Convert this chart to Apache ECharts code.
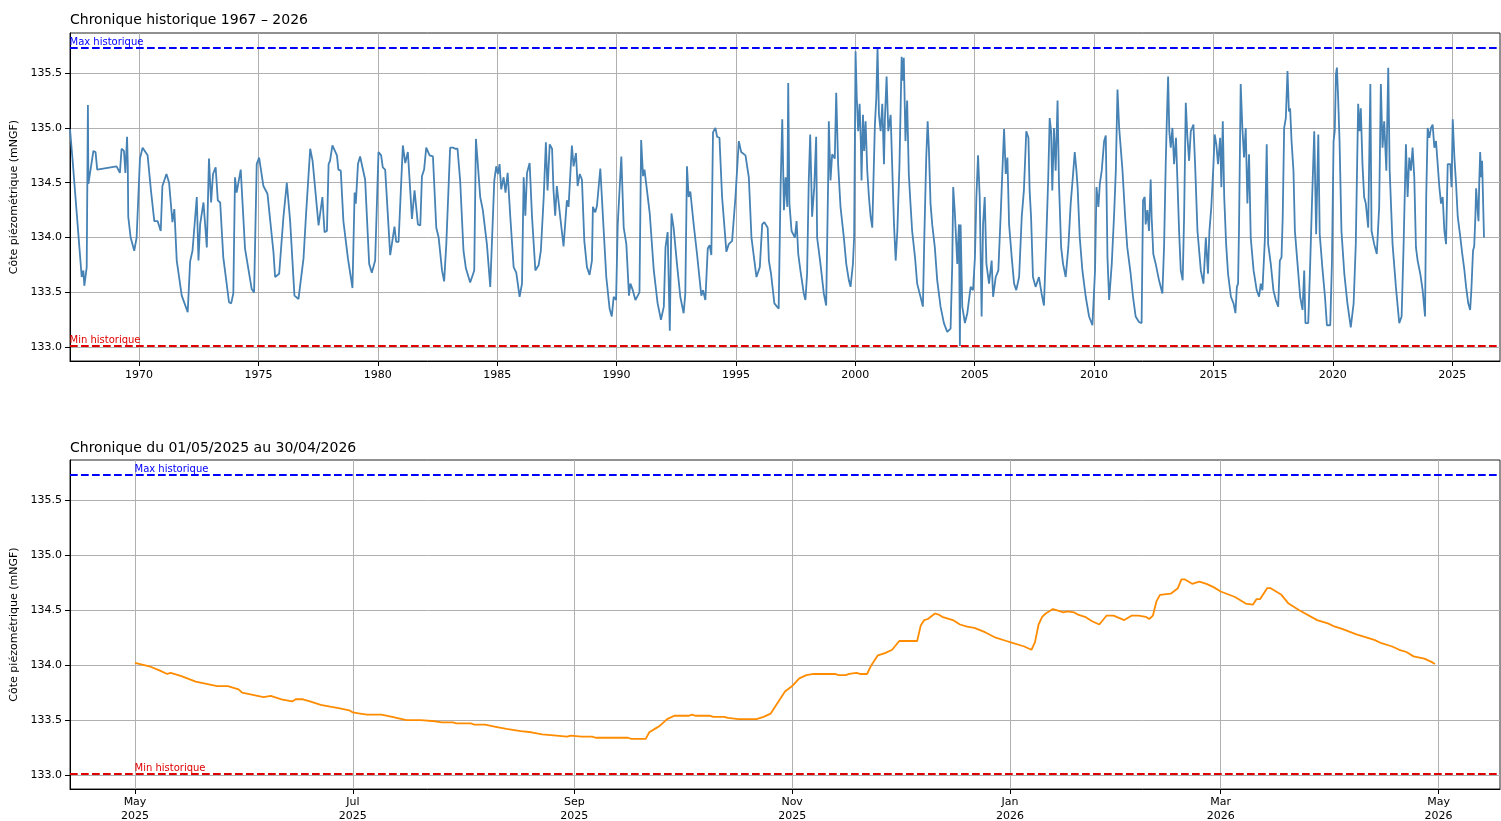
<!DOCTYPE html>
<html><head><meta charset="utf-8">
<script src="https://cdn.jsdelivr.net/npm/echarts@6/dist/echarts.min.js"></script>
<style>html,body{margin:0;padding:0;background:#fff}#c{width:1501px;height:821px}</style>
</head><body><div id="c"></div>
<script>
// ---- historical series (decimal year, level in mNGF) ----
const histYears = [
1967.11,1967.15,1967.21,1967.29,1967.60,1967.67,1967.71,1967.81,1967.86,1967.88,1968.09,1968.18,1968.25,
1969.06,1969.20,1969.27,1969.37,1969.43,1969.50,1969.53,1969.55,1969.65,1969.72,1969.80,1969.90,
1970.04,1970.15,1970.36,1970.50,1970.64,1970.78,1970.91,1970.98,1971.06,1971.15,1971.26,1971.40,1971.48,1971.58,1971.79,
1972.04,1972.14,1972.24,1972.42,1972.49,1972.56,1972.70,1972.84,1972.93,1973.02,1973.10,1973.21,1973.30,1973.40,1973.53,1973.77,1973.86,1973.95,
1974.02,1974.09,1974.26,1974.44,1974.72,1974.82,1974.93,1975.03,1975.21,1975.38,1975.63,1975.70,1975.87,
1976.05,1976.19,1976.33,1976.51,1976.68,1976.89,1976.99,1977.17,1977.27,1977.52,1977.68,1977.77,1977.87,1977.94,
1978.00,1978.10,1978.29,1978.35,1978.45,1978.56,1978.75,1978.94,1979.03,1979.08,1979.17,1979.26,1979.47,1979.64,1979.75,1979.89,
1980.03,1980.14,1980.21,1980.31,1980.52,1980.59,1980.70,1980.77,1980.87,1981.05,1981.15,1981.26,1981.36,1981.43,1981.54,1981.68,1981.78,
1981.85,1981.94,1982.03,1982.17,1982.31,1982.45,1982.55,1982.69,1982.78,1982.87,1983.03,1983.15,1983.24,1983.34,1983.45,1983.59,1983.69,1983.87,
1984.04,1984.11,1984.18,1984.29,1984.40,1984.57,1984.71,1984.88,1984.96,1985.03,1985.10,1985.17,1985.27,1985.35,1985.44,1985.55,1985.69,1985.80,1985.94,
1986.04,1986.11,1986.18,1986.25,1986.36,1986.46,1986.60,1986.74,1986.83,1986.95,1987.04,1987.11,1987.20,1987.30,1987.36,1987.43,1987.50,1987.64,1987.78,1987.92,1987.99,
1988.13,1988.20,1988.30,1988.37,1988.46,1988.55,1988.65,1988.76,1988.87,1988.97,1989.01,1989.11,1989.18,1989.32,1989.43,1989.57,1989.71,1989.80,1989.88,1989.98,
1990.05,1990.20,1990.30,1990.41,1990.52,1990.58,1990.68,1990.79,1990.96,1991.03,1991.11,1991.17,1991.25,1991.39,1991.56,1991.72,1991.86,1991.98,
1992.05,1992.14,1992.23,1992.30,1992.39,1992.53,1992.67,1992.81,1992.88,1992.95,1993.02,1993.09,1993.23,1993.37,1993.55,1993.62,1993.72,1993.82,1993.90,1993.97,
1994.04,1994.14,1994.21,1994.31,1994.42,1994.60,1994.70,1994.84,1994.98,1995.12,1995.22,1995.40,1995.54,1995.65,1995.86,
1996.00,1996.10,1996.19,1996.33,1996.38,1996.47,1996.61,1996.79,1996.87,1996.94,1997.01,1997.08,1997.15,1997.19,1997.24,1997.33,1997.47,1997.54,1997.61,1997.70,1997.84,1997.91,1997.98,
1998.05,1998.11,1998.19,1998.28,1998.36,1998.40,1998.54,1998.68,1998.78,1998.86,1998.89,1998.96,1999.03,1999.14,1999.20,1999.28,1999.38,1999.52,1999.62,1999.73,1999.80,1999.90,1999.95,
2000.01,2000.06,2000.12,2000.18,2000.23,2000.26,2000.32,2000.37,2000.43,2000.50,2000.57,2000.64,2000.71,2000.76,2000.82,2000.88,2000.93,2000.99,
2001.06,2001.13,2001.20,2001.24,2001.31,2001.38,2001.48,2001.55,2001.62,2001.69,2001.76,2001.85,2001.94,2001.99,
2002.03,2002.10,2002.17,2002.24,2002.31,2002.38,2002.50,2002.59,2002.73,2002.83,2002.89,2002.97,2003.03,2003.08,2003.15,2003.22,2003.33,2003.43,2003.57,2003.71,2003.85,2003.99,
2004.06,2004.10,2004.17,2004.27,2004.34,2004.38,2004.41,2004.48,2004.59,2004.69,2004.83,2004.93,2005.01,2005.07,2005.14,2005.21,2005.29,2005.35,2005.42,2005.49,2005.60,2005.71,2005.77,2005.88,2005.99,
2006.09,2006.16,2006.23,2006.30,2006.37,2006.44,2006.55,2006.65,2006.74,2006.86,2006.97,2007.06,2007.16,2007.25,2007.30,2007.36,2007.44,2007.55,2007.69,2007.80,2007.90,
2008.00,2008.08,2008.14,2008.20,2008.25,2008.32,2008.39,2008.47,2008.53,2008.62,2008.70,2008.81,2008.92,2009.02,2009.12,2009.19,2009.26,2009.31,2009.40,2009.51,2009.65,2009.79,2009.93,
2010.04,2010.10,2010.18,2010.24,2010.32,2010.42,2010.49,2010.56,2010.63,2010.74,2010.84,2010.91,2010.98,2011.05,2011.19,2011.30,2011.39,2011.53,2011.63,2011.74,2011.88,2011.99,
2012.05,2012.12,2012.16,2012.23,2012.30,2012.37,2012.41,2012.48,2012.58,2012.72,2012.86,2012.93,2013.00,2013.04,2013.10,2013.15,2013.21,2013.28,2013.35,2013.43,2013.49,2013.56,2013.63,2013.71,2013.77,2013.84,2013.91,2013.98,
2014.05,2014.16,2014.23,2014.33,2014.47,2014.58,2014.68,2014.77,2014.83,2014.91,2015.00,2015.05,2015.12,2015.19,2015.28,2015.33,2015.39,2015.45,2015.53,2015.61,2015.73,2015.84,2015.92,2015.98,
2016.03,2016.07,2016.14,2016.21,2016.28,2016.35,2016.42,2016.49,2016.56,2016.68,2016.81,2016.91,2016.98,2017.05,2017.15,2017.23,2017.29,2017.40,2017.51,2017.61,2017.71,2017.78,2017.85,2017.90,2017.96,
2018.03,2018.10,2018.16,2018.21,2018.27,2018.35,2018.41,2018.52,2018.63,2018.73,2018.80,2018.85,2018.97,2019.05,2019.12,2019.22,2019.30,2019.39,2019.45,2019.57,2019.67,2019.75,2019.89,2019.96,
2020.03,2020.08,2020.13,2020.17,2020.22,2020.28,2020.36,2020.48,2020.61,2020.75,2020.87,2020.96,2021.06,2021.12,2021.17,2021.24,2021.31,2021.38,2021.48,2021.57,2021.62,2021.73,2021.84,2021.94,
2022.01,2022.08,2022.15,2022.24,2022.32,2022.38,2022.50,2022.64,2022.78,2022.88,2022.96,2023.06,2023.13,2023.20,2023.27,2023.34,2023.41,2023.48,2023.55,2023.66,2023.76,2023.86,2023.91,2023.97,
2024.04,2024.11,2024.18,2024.25,2024.32,2024.39,2024.46,2024.53,2024.60,2024.67,2024.74,2024.81,2024.92,2024.97,2025.02,2025.09,2025.16,2025.23,
2025.33,2025.42,2025.50,2025.58,2025.67,2025.75,2025.80,2025.87,2025.92,2025.97,2026.00,2026.08,2026.10,2026.13,2026.17,2026.21,2026.25,2026.33
];
const histValues = [
134.99,134.99,134.73,134.72,133.64,133.70,133.56,133.73,135.21,134.49,134.79,134.78,134.62,
134.65,134.59,134.81,134.79,134.59,134.92,134.67,134.19,134.00,133.99,133.88,134.00,
134.72,134.82,134.75,134.43,134.15,134.15,134.06,134.47,134.46,134.58,134.50,134.14,134.26,133.79,133.47,
133.32,133.78,133.88,134.37,133.79,134.12,134.32,133.91,134.72,134.32,134.58,134.64,134.34,134.32,133.82,133.41,133.40,133.49,
134.55,134.41,134.62,133.90,133.53,133.50,134.67,134.73,134.47,134.40,133.87,133.64,133.67,
134.19,134.50,134.15,133.47,133.44,133.81,134.19,134.81,134.70,134.11,134.37,134.05,134.06,134.67,
134.70,134.84,134.75,134.62,134.61,134.15,133.81,133.54,134.41,134.31,134.67,134.74,134.53,133.76,133.68,133.79,
134.78,134.75,134.64,134.62,133.84,133.94,134.10,133.96,133.96,134.84,134.68,134.78,134.43,134.17,134.43,134.12,134.11,
134.56,134.62,134.82,134.75,134.74,134.09,134.00,133.70,133.60,133.94,134.82,134.82,134.81,134.81,134.52,133.88,133.72,133.59,
133.70,134.90,134.70,134.37,134.25,133.94,133.55,134.52,134.65,134.58,134.67,134.44,134.55,134.41,134.59,134.19,133.73,133.68,133.46,
133.58,134.55,134.20,134.59,134.68,134.19,133.70,133.75,133.88,134.37,134.87,134.43,134.85,134.81,134.43,134.20,134.47,134.19,133.92,134.34,134.28,
134.84,134.65,134.77,134.47,134.58,134.53,133.97,133.73,133.66,133.79,134.28,134.23,134.29,134.63,134.19,133.64,133.35,133.28,133.46,133.43,
134.12,134.74,134.09,133.94,133.47,133.58,133.52,133.43,133.50,134.89,134.56,134.62,134.61,134.22,133.70,133.40,133.25,133.37,
133.91,134.05,133.15,134.22,134.09,133.76,133.46,133.31,133.49,134.65,134.37,134.42,134.12,133.85,133.47,133.52,133.43,133.90,133.93,133.84,
134.96,135.00,134.92,134.91,134.37,133.87,133.94,133.97,134.37,134.88,134.78,134.75,134.55,134.00,133.64,
133.73,134.12,134.14,134.09,133.79,133.67,133.40,133.35,134.46,135.08,134.25,134.55,134.28,135.41,134.31,134.06,134.00,134.15,133.85,133.70,133.49,133.43,133.67,
134.52,134.94,134.19,134.46,134.92,134.00,133.76,133.49,133.38,134.49,135.06,134.52,134.76,134.72,135.32,134.67,134.28,134.00,133.76,133.61,133.55,133.76,134.00,
135.70,135.28,134.97,135.22,134.88,134.52,135.12,134.79,135.06,134.61,134.37,134.19,134.09,134.52,135.03,135.28,135.73,135.12,
134.97,135.22,134.67,135.09,135.47,134.97,135.12,134.61,134.12,133.79,134.06,134.67,135.65,135.43,
135.64,134.88,135.25,134.58,134.31,134.06,133.82,133.58,133.46,133.37,134.00,134.73,135.06,134.82,134.31,134.12,133.91,133.61,133.37,133.22,133.14,133.17,
133.76,134.46,134.22,133.76,134.12,133.01,134.12,133.37,133.22,133.31,133.55,133.52,133.82,134.37,134.75,134.37,133.28,134.12,134.37,133.76,133.58,133.79,133.46,133.64,133.70,
134.22,134.61,134.99,134.58,134.73,134.12,133.82,133.58,133.52,133.64,134.19,134.43,134.97,134.91,134.43,134.19,133.64,133.55,133.64,133.49,133.38,
134.00,134.55,135.09,134.97,134.43,135.00,134.61,135.25,134.49,133.91,133.76,133.64,133.91,134.31,134.58,134.78,134.61,134.46,134.00,133.70,133.46,133.28,133.20,
133.70,134.46,134.28,134.49,134.61,134.88,134.93,133.82,133.43,133.76,134.22,134.61,135.35,135.00,134.61,134.19,133.91,133.67,133.46,133.28,133.23,133.22,
134.34,134.37,134.12,134.25,134.06,134.53,134.19,133.85,133.76,133.61,133.49,133.91,134.67,135.02,135.47,134.97,134.82,135.00,134.67,134.91,134.52,134.06,133.70,133.61,134.19,135.23,134.91,134.70,
134.97,135.03,134.67,134.06,133.70,133.58,134.00,133.67,134.06,134.28,134.67,134.94,134.85,134.67,134.91,134.46,135.06,134.37,133.94,133.67,133.46,133.40,133.31,133.55,
133.58,134.09,135.40,135.00,134.73,135.00,134.31,134.76,134.00,133.70,133.52,133.46,133.58,133.52,133.97,134.85,133.94,133.76,133.52,133.43,133.37,133.79,133.82,134.19,135.00,
135.09,135.52,135.15,135.18,134.88,134.61,134.06,133.76,133.46,133.34,133.70,133.22,133.22,133.76,134.28,134.97,134.03,134.94,134.03,133.70,133.46,133.20,133.20,133.76,
134.88,134.97,135.49,135.55,135.28,134.88,134.06,133.67,133.40,133.18,133.40,133.94,135.22,134.97,135.18,134.67,134.37,134.31,134.09,135.40,134.06,133.94,133.85,134.28,
135.40,134.82,135.06,134.61,135.55,134.61,133.94,133.55,133.22,133.28,133.91,134.85,134.37,134.73,134.61,134.82,134.55,133.91,133.79,133.67,133.52,133.28,134.37,135.00,
134.91,135.00,135.03,134.82,134.88,134.67,134.46,134.31,134.37,134.06,133.94,134.67,134.67,134.46,135.08,134.73,134.49,134.19,
134.02,133.85,133.72,133.55,133.40,133.34,133.52,133.88,133.92,134.20,134.45,134.20,134.15,134.50,134.78,134.55,134.70,134.00
];
// ---- last hydrological year ----
const recentDates = [
'2025-05-01','2025-05-05','2025-05-08','2025-05-10','2025-05-11','2025-05-14','2025-05-18','2025-05-21','2025-05-24','2025-05-27','2025-05-30','2025-05-31',
'2025-06-03','2025-06-06','2025-06-08','2025-06-11','2025-06-14','2025-06-15','2025-06-17','2025-06-19','2025-06-22','2025-06-25','2025-06-27','2025-06-30',
'2025-07-01','2025-07-03','2025-07-05','2025-07-09','2025-07-12','2025-07-16','2025-07-20','2025-07-24','2025-07-26','2025-07-29','2025-07-30',
'2025-08-03','2025-08-04','2025-08-07','2025-08-10','2025-08-13','2025-08-17','2025-08-20','2025-08-23','2025-08-27','2025-08-30','2025-08-31',
'2025-09-03','2025-09-06','2025-09-07','2025-09-16','2025-09-17','2025-09-21','2025-09-22','2025-09-24','2025-09-25','2025-09-27','2025-09-29',
'2025-10-03','2025-10-04','2025-10-05','2025-10-09','2025-10-10','2025-10-13','2025-10-14','2025-10-17','2025-10-22','2025-10-24','2025-10-26','2025-10-28','2025-10-30',
'2025-11-01','2025-11-03','2025-11-05','2025-11-07','2025-11-13','2025-11-14','2025-11-16','2025-11-17','2025-11-19','2025-11-20','2025-11-22','2025-11-23','2025-11-25','2025-11-27','2025-11-29',
'2025-12-01','2025-12-06','2025-12-07','2025-12-08','2025-12-09','2025-12-11','2025-12-12','2025-12-13','2025-12-16','2025-12-18','2025-12-20','2025-12-22','2025-12-25','2025-12-28','2025-12-31',
'2026-01-01','2026-01-05','2026-01-07','2026-01-08','2026-01-09','2026-01-10','2026-01-11','2026-01-13','2026-01-14','2026-01-16','2026-01-17','2026-01-19','2026-01-20','2026-01-22','2026-01-24','2026-01-26','2026-01-28','2026-01-30',
'2026-02-02','2026-02-04','2026-02-06','2026-02-08','2026-02-09','2026-02-10','2026-02-11','2026-02-12','2026-02-15','2026-02-17','2026-02-18','2026-02-19','2026-02-21','2026-02-23','2026-02-25','2026-02-27',
'2026-03-01','2026-03-05','2026-03-08','2026-03-10','2026-03-11','2026-03-12','2026-03-14','2026-03-15','2026-03-18','2026-03-20','2026-03-23','2026-03-28','2026-03-31',
'2026-04-02','2026-04-04','2026-04-08','2026-04-13','2026-04-15','2026-04-18','2026-04-20','2026-04-22','2026-04-24','2026-04-27','2026-04-29','2026-04-30'
];
const recentValues = [
134.02,133.99,133.95,133.92,133.93,133.90,133.85,133.83,133.81,133.81,133.78,133.75,
133.73,133.71,133.72,133.69,133.67,133.69,133.69,133.67,133.64,133.62,133.61,133.59,
133.57,133.56,133.55,133.55,133.53,133.50,133.50,133.49,133.48,133.48,133.47,
133.47,133.46,133.46,133.44,133.42,133.40,133.39,133.37,133.36,133.35,133.36,
133.35,133.35,133.34,133.34,133.33,133.33,133.39,133.43,133.45,133.51,133.54,
133.54,133.55,133.54,133.54,133.53,133.53,133.52,133.51,133.51,133.53,133.56,133.66,133.76,
133.81,133.88,133.91,133.92,133.92,133.91,133.91,133.92,133.93,133.92,133.92,133.99,134.09,134.11,134.14,
134.22,134.22,134.36,134.41,134.42,134.47,134.46,134.44,134.41,134.37,134.35,134.34,134.30,134.25,134.22,
134.21,134.17,134.14,134.21,134.37,134.44,134.47,134.51,134.50,134.48,134.49,134.48,134.46,134.44,134.40,134.37,134.45,134.45,
134.41,134.45,134.45,134.44,134.42,134.45,134.58,134.64,134.65,134.70,134.78,134.78,134.74,134.76,134.74,134.71,
134.67,134.62,134.56,134.55,134.60,134.60,134.70,134.70,134.64,134.56,134.50,134.41,134.38,
134.35,134.33,134.28,134.23,134.20,134.17,134.14,134.12,134.08,134.06,134.03,134.01
];
const yearTicks = [1970,1975,1980,1985,1990,1995,2000,2005,2010,2015,2020,2025];
const levelTicks = [133.0,133.5,134.0,134.5,135.0,135.5];
const monthTicks = ['2025-05-01','2025-07-01','2025-09-01','2025-11-01','2026-01-01','2026-03-01','2026-05-01'];
const monthNames = ['Jan','Feb','Mar','Apr','May','Jun','Jul','Aug','Sep','Oct','Nov','Dec'];
const titles = ['Chronique historique 1967 \u2013 2026','Chronique du 01/05/2025 au 30/04/2026'];
const yName = 'C\u00f4te pi\u00e9zom\u00e9trique (mNGF)';
const maxLabel = 'Max historique', minLabel = 'Min historique';

// ---- derived ----
const toTs = s => { const p = s.split('-').map(Number); return Date.UTC(p[0], p[1]-1, p[2]); };
const recentTs = recentDates.map(toTs);
const monthTickTs = monthTicks.map(toTs);
const histMax = Math.max(...histValues), histMin = Math.min(...histValues);
const pad = 0.05 * (histMax - histMin);
const yMin = histMin - pad, yMax = histMax + pad;
const span2 = recentTs[recentTs.length-1] - recentTs[0];
const x2Min = recentTs[0] - 0.05*span2, x2Max = recentTs[recentTs.length-1] + 0.05*span2;
const FONT = 'DejaVu Sans';
const GRID = '#b0b0b0';

function yAxisDef(idx){
  return {
    type:'value', gridIndex:idx, min:yMin, max:yMax,
    name:yName, nameLocation:'middle', nameGap:49,
    nameTextStyle:{fontFamily:FONT,fontSize:11,color:'#000'},
    axisLine:{show:true,lineStyle:{color:'#000',width:1}},
    axisTick:{show:true,length:5,lineStyle:{color:'#000'},customValues:levelTicks},
    axisLabel:{fontFamily:FONT,fontSize:11,color:'#000',margin:8,customValues:levelTicks,formatter:v=>Number(v).toFixed(1)},
    splitLine:{show:true,lineStyle:{color:GRID,width:1}}
  };
}
function refLines(){
  return {
    silent:true, symbol:['none','none'], label:{show:false},
    data:[
      {yAxis:histMax, lineStyle:{color:'#0000ff',type:[7.7,3.3],width:2}},
      {yAxis:histMin, lineStyle:{color:'#e00000',type:[7.7,3.3],width:2}}
    ]
  };
}
function refTexts(x){
  const lab = c => ({show:true,position:[0,0],align:'left',verticalAlign:'bottom',color:c,fontFamily:FONT,fontSize:10,formatter:'{b}'});
  return {
    silent:true, symbol:'circle', symbolSize:1, itemStyle:{color:'rgba(0,0,0,0)'},
    data:[
      {name:maxLabel, coord:[x,histMax], label:lab('#0000ff')},
      {name:minLabel, coord:[x,histMin], label:lab('#e00000')}
    ]
  };
}

const chart = echarts.init(document.getElementById('c'), null, {renderer:'canvas'});
chart.setOption({
  animation:false,
  backgroundColor:'#fff',
  title:[
    {text:titles[0], left:70, top:13, padding:0, textStyle:{fontFamily:FONT,fontSize:14,fontWeight:'normal',color:'#000'}},
    {text:titles[1], left:70, top:441, padding:0, textStyle:{fontFamily:FONT,fontSize:14,fontWeight:'normal',color:'#000'}}
  ],
  grid:[
    {left:70, right:1, top:33, height:328, show:true, borderColor:'#222', borderWidth:1, containLabel:false, outerBoundsMode:'none'},
    {left:70, right:1, top:460, height:329, show:true, borderColor:'#222', borderWidth:1, containLabel:false, outerBoundsMode:'none'}
  ],
  xAxis:[
    {type:'value', gridIndex:0, min:histYears[0], max:2027.0,
     axisLine:{show:true,lineStyle:{color:'#000',width:1}},
     axisTick:{show:true,length:5,lineStyle:{color:'#000'},customValues:yearTicks},
     axisLabel:{fontFamily:FONT,fontSize:11,color:'#000',margin:9,customValues:yearTicks,formatter:v=>String(Math.round(v))},
     splitLine:{show:true,lineStyle:{color:GRID,width:1}}},
    {type:'value', gridIndex:1, min:x2Min, max:x2Max,
     axisLine:{show:true,lineStyle:{color:'#000',width:1}},
     axisTick:{show:true,length:5,lineStyle:{color:'#000'},customValues:monthTickTs},
     axisLabel:{fontFamily:FONT,fontSize:11,color:'#000',margin:6,lineHeight:14,customValues:monthTickTs,
       formatter:v=>{const d=new Date(v);return monthNames[d.getUTCMonth()]+'\n'+d.getUTCFullYear();}},
     splitLine:{show:true,lineStyle:{color:GRID,width:1}}}
  ],
  yAxis:[yAxisDef(0), yAxisDef(1)],
  series:[
    {type:'line', xAxisIndex:0, yAxisIndex:0, data:histYears.map((y,i)=>[y,histValues[i]]),
     showSymbol:false, symbol:'none', lineStyle:{color:'#4682b4',width:1.8}, itemStyle:{color:'#4682b4'},
     markLine:refLines(), markPoint:refTexts(histYears[0]), z:3},
    {type:'line', xAxisIndex:1, yAxisIndex:1, data:recentTs.map((t,i)=>[t,recentValues[i]]),
     showSymbol:false, symbol:'none', lineStyle:{color:'#ff8c00',width:1.8}, itemStyle:{color:'#ff8c00'},
     markLine:refLines(), markPoint:refTexts(recentTs[0]), z:3}
  ]
});
</script>
</body></html>
